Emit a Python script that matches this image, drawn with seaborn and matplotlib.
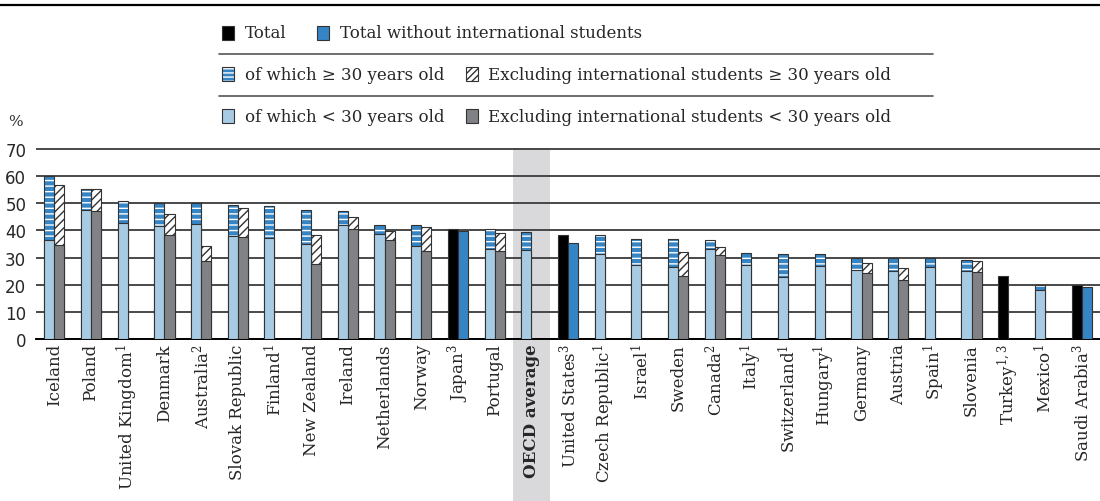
import matplotlib.pyplot as plt
import matplotlib.transforms as mtransforms
import numpy as np
import pandas as pd
import seaborn as sns
from matplotlib.lines import Line2D
from matplotlib.patches import Rectangle

countries = [
    "Iceland", "Poland", "United Kingdom$^1$", "Denmark", "Australia$^2$",
    "Slovak Republic", "Finland$^1$", "New Zealand", "Ireland", "Netherlands",
    "Norway", "Japan$^3$", "Portugal", "OECD average", "United States$^3$",
    "Czech Republic$^1$", "Israel$^1$", "Sweden", "Canada$^2$", "Italy$^1$",
    "Switzerland$^1$", "Hungary$^1$", "Germany", "Austria", "Spain$^1$",
    "Slovenia", "Turkey$^{1,3}$", "Mexico$^1$", "Saudi Arabia$^3$",
]
nan = np.nan
# of which < 30 years old
under30 = [36.6, 47.6, 42.7, 41.6, 42.5, 38.0, 37.2, 34.9, 42.0, 38.7,
           34.4, nan, 33.2, 32.7, nan, 31.2, 27.1, 26.4, 33.1, 27.1,
           23.0, 27.0, 25.4, 24.9, 26.6, 25.2, nan, 18.2, nan]
# of which >= 30 years old
over30 = [23.4, 7.8, 8.2, 8.6, 7.7, 11.4, 11.9, 12.7, 5.0, 3.2,
          7.5, nan, 7.2, 6.7, nan, 7.0, 9.8, 10.4, 3.2, 4.5,
          8.5, 4.4, 4.5, 5.0, 3.3, 4.0, nan, 1.8, nan]
# excluding international students < 30 years old
excl_under30 = [34.6, 47.3, nan, 38.3, 28.7, 37.5, nan, 27.5, 40.5, 36.6,
                32.3, nan, 32.3, nan, nan, nan, nan, 23.2, 30.9, nan,
                nan, nan, 24.4, 21.9, nan, 24.8, nan, nan, nan]
# excluding international students >= 30 years old
excl_over30 = [22.3, 7.8, nan, 7.8, 5.6, 10.6, nan, 10.9, 4.5, 3.3,
               8.8, nan, 6.9, nan, nan, nan, nan, 9.0, 3.1, nan,
               nan, nan, 3.7, 4.4, nan, 4.1, nan, nan, nan]
# totals where no age breakdown is available
total = [nan] * 11 + [40.5] + [nan] * 2 + [38.4] + [nan] * 11 + [23.2, nan, 20.0]
total_excl = [nan] * 11 + [39.9] + [nan] * 2 + [35.2] + [nan] * 13 + [19.3]

BLUE = "#3584c4"
LIGHT = "#a8cbe4"
GRAY = "#818285"
EDGE = "#333333"
BAND = "#d9d9db"
W, H = 1100, 502

sns.set_theme(style="white")
plt.rcParams["font.family"] = ["DejaVu Serif"]
plt.rcParams["mathtext.fontset"] = "dejavuserif"
plt.rcParams["hatch.linewidth"] = 1.0

fig = plt.figure(figsize=(W / 100, H / 100), dpi=100)
ax_h = 190 * 70.4 / 70
ax = fig.add_axes([36 / W, 1 - 340 / H, 1 - 36 / W, ax_h / H])

n = len(countries)


def long_df(a, b):
    return pd.DataFrame({
        "country": countries * 2,
        "series": ["with"] * n + ["excl"] * n,
        "value": list(a) + list(b),
    })


def draw_layer(a, b, pal):
    start = len(ax.patches)
    sns.barplot(data=long_df(a, b), x="country", y="value", hue="series",
                order=countries, hue_order=["with", "excl"], palette=pal,
                width=0.55, errorbar=None, legend=False, saturation=1,
                edgecolor=EDGE, linewidth=0.8, zorder=3, ax=ax)
    return ax.patches[start:]


# upper (>= 30) segments: drawn at full height, then covered by the < 30 part
tops = draw_layer(np.add(under30, over30), np.add(excl_under30, excl_over30),
                  {"with": BLUE, "excl": "white"})
blue_rgb = np.array(plt.matplotlib.colors.to_rgb(BLUE))
for p in tops:
    if np.allclose(p.get_facecolor()[:3], blue_rgb, atol=0.02):
        p.set_hatch("---")
        p.set_edgecolor("white")
        p.set_linewidth(0)
        ax.add_patch(Rectangle(p.get_xy(), p.get_width(), p.get_height(),
                               fill=False, edgecolor=EDGE, lw=0.8, zorder=3))
    else:
        p.set_hatch("////")

draw_layer(under30, excl_under30, {"with": LIGHT, "excl": GRAY})
draw_layer(total, total_excl, {"with": "black", "excl": BLUE})

# OECD average band
trans = mtransforms.blended_transform_factory(ax.transData, ax.transAxes)
oecd = countries.index("OECD average")
ax.add_patch(Rectangle((oecd - 0.5, -1.2), 1, 2.2, transform=trans,
                       facecolor=BAND, edgecolor="none", zorder=0.1,
                       clip_on=False))

ax.set_ylim(0, 70.4)
ax.set_xlim(-0.5, n - 0.5)
ax.set_yticks(range(0, 71, 10))
ax.set_axisbelow(True)
ax.yaxis.grid(True, color="#3a3a3a", lw=1.3)
ax.xaxis.grid(False)
for s in ["left", "top", "right"]:
    ax.spines[s].set_visible(False)
ax.spines["bottom"].set_color("black")
ax.spines["bottom"].set_linewidth(1.4)
ax.set_xlabel("")
ax.set_ylabel("")
ax.tick_params(axis="both", length=0)
ax.tick_params(axis="y", pad=7, labelsize=12)
ax.tick_params(axis="x", pad=3)
for lab in ax.get_yticklabels():
    lab.set_fontfamily("DejaVu Sans")
ax.set_xticks(range(n))
ax.set_xticklabels(countries, rotation=90, fontsize=12)
ax.get_xticklabels()[oecd].set_fontweight("bold")

# header rule and unit
fig.add_artist(Line2D([0, 1], [1 - 5.5 / H] * 2, color="black", lw=1.6))
fig.text(8 / W, 1 - 122 / H, "%", fontsize=11, va="center", color="#333333")


# legend, drawn by hand in three rows
def key(px, py, face, hatch=None, hatch_col=EDGE):
    x0, y0 = px / W, 1 - (py + 7) / H
    w, h = 12 / W, 14 / H
    if hatch and hatch_col == "white":
        fig.add_artist(Rectangle((x0, y0), w, h, facecolor=face, hatch=hatch,
                                 edgecolor="white", lw=0))
        fig.add_artist(Rectangle((x0, y0), w, h, fill=False, edgecolor=EDGE, lw=0.8))
    else:
        fig.add_artist(Rectangle((x0, y0), w, h, facecolor=face, hatch=hatch,
                                 edgecolor=EDGE, lw=0.8))


def label(px, py, s):
    fig.text(px / W, 1 - py / H, s, fontsize=12, va="center", ha="left")


rows = [34, 75, 117]
key(222, rows[0], "black")
label(245, rows[0], "Total")
key(317, rows[0], BLUE)
label(340, rows[0], "Total without international students")
key(222, rows[1], BLUE, "----", "white")
label(245, rows[1], "of which ≥ 30 years old")
key(466, rows[1], "white", "/////")
label(488, rows[1], "Excluding international students ≥ 30 years old")
key(222, rows[2], LIGHT)
label(245, rows[2], "of which < 30 years old")
key(466, rows[2], GRAY)
label(488, rows[2], "Excluding international students < 30 years old")
for yy in [55, 97]:
    fig.add_artist(Line2D([219 / W, 933 / W], [1 - yy / H] * 2, color="#555555", lw=1.2))

fig.savefig("out.png", dpi=100)
